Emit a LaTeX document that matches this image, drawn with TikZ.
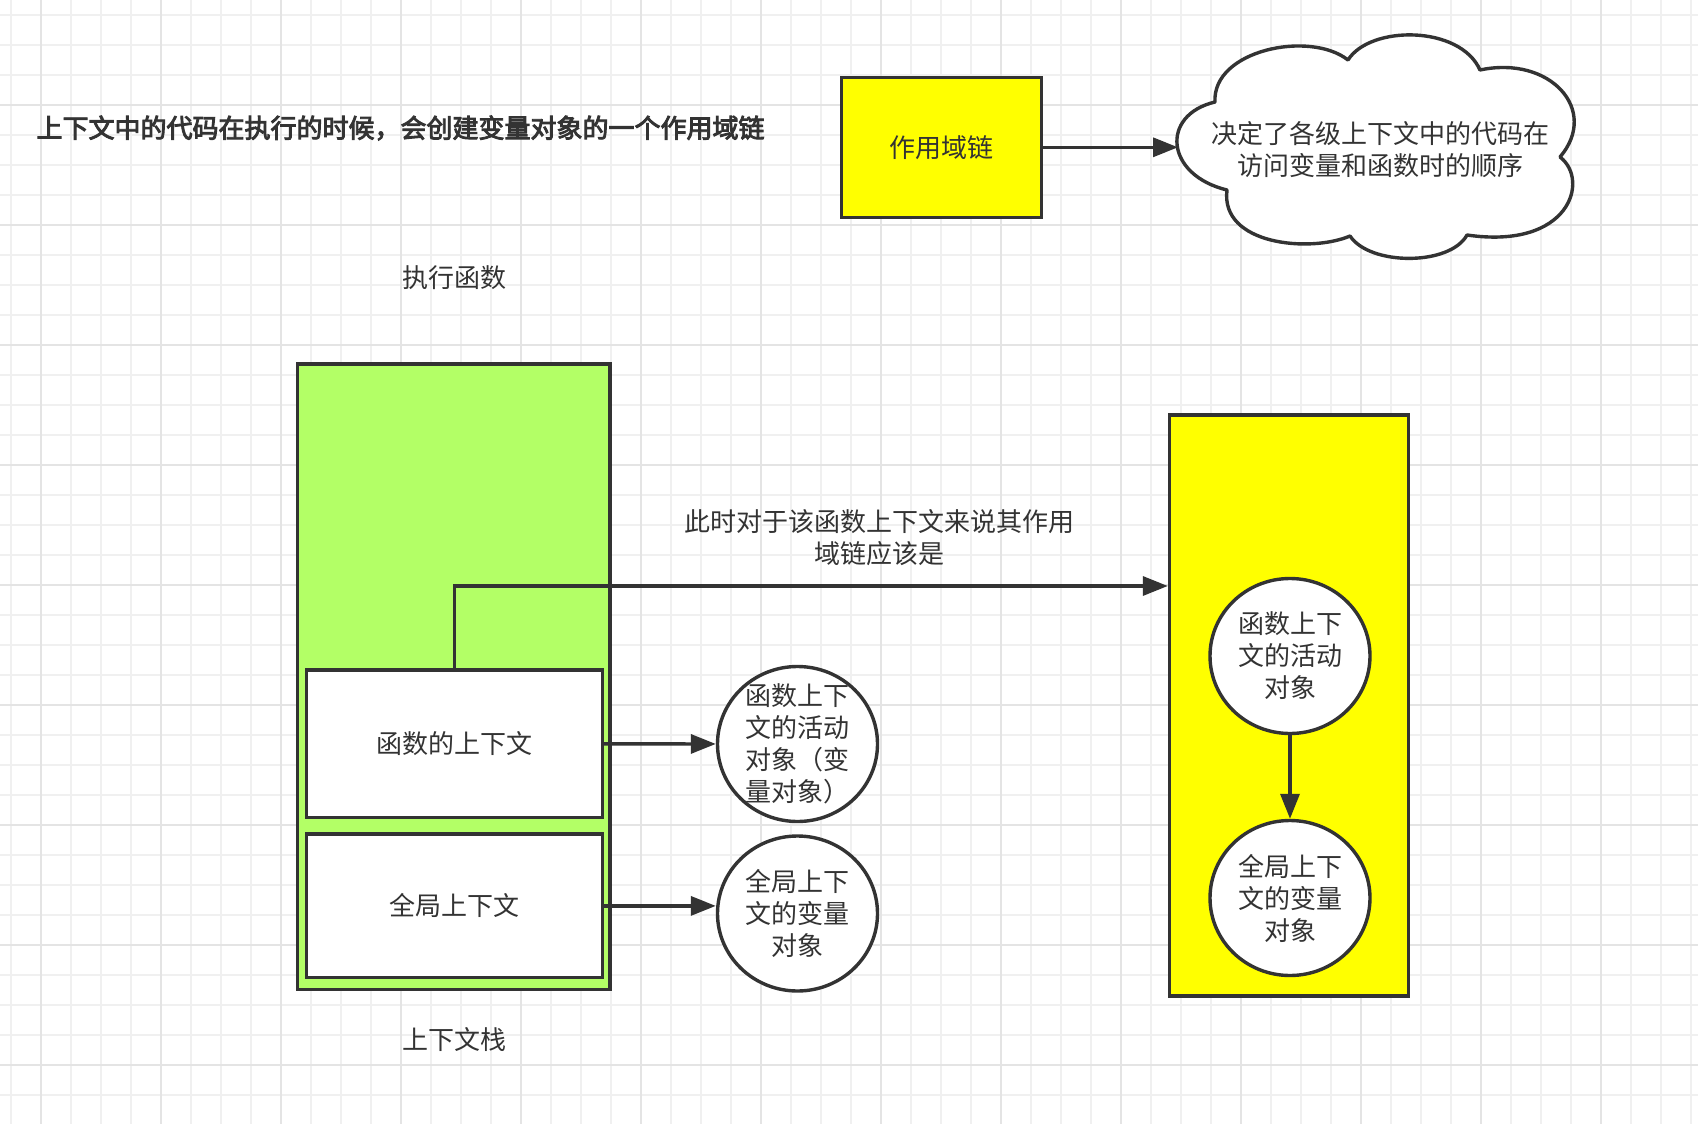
\documentclass[tikz,border=0pt]{standalone}
\usepackage{fontspec}
\setmainfont{Noto Sans CJK SC}
\newfontfamily\titlefont{Noto Sans CJK SC}[FakeBold=3.5]
\usetikzlibrary{arrows.meta,shapes.geometric}
\definecolor{inkgray}{HTML}{333333}
\definecolor{gridminor}{HTML}{F0F0F0}
\definecolor{gridmajor}{HTML}{E4E4E4}
\definecolor{stackgreen}{HTML}{B3FF66}
\definecolor{chainyellow}{HTML}{FFFF00}

\begin{document}
\begin{tikzpicture}[x=1pt, y=-1pt,
    every node/.style={font=\fontsize{26}{32}\selectfont, text=inkgray},
    minorline/.style={gridminor, line width=1.2pt},
    majorline/.style={gridmajor, line width=2pt},
    boxline/.style={draw=inkgray, line width=3.4pt},
    ctxbox/.style={boxline, fill=white, minimum width=296pt},
    objnode/.style={boxline, fill=white, ellipse, minimum width=160pt, minimum height=155pt,
      inner xsep=0pt, inner ysep=-10pt, align=center},
    conn/.style={inkgray, line width=3.4pt, -{Triangle[length=25pt, width=19pt]}}
  ]
  % Raster
  \useasboundingbox (0,0) rectangle (1698,1124);
  \fill[white] (0,0) rectangle (1698,1124);
  \foreach \gx in {11,41,...,1698} \draw[minorline] (\gx,0) -- (\gx,1124);
  \foreach \gy in {15,45,...,1124} \draw[minorline] (0,\gy) -- (1698,\gy);
  \foreach \gx in {41,161,...,1698} \draw[majorline] (\gx,0) -- (\gx,1124);
  \foreach \gy in {105,225,...,1124} \draw[majorline] (0,\gy) -- (1698,\gy);

  % Kopfzeile
  \node[anchor=west, font=\fontsize{26}{32}\titlefont] (title) at (33,128)
    {上下文中的代码在执行的时候，会创建变量对象的一个作用域链};
  \node[boxline, fill=chainyellow, minimum width=200pt, minimum height=140pt] (scopechain)
    at (941.7,147.3) {作用域链};

  % Wolke
  \draw[inkgray, line width=3.4pt, fill=white, line join=round]
    (1215,102) .. controls (1212,50) and (1310,30) .. (1348,60)
    .. controls (1370,25) and (1460,25) .. (1480,70)
    .. controls (1550,55) and (1600,110) .. (1560,157)
    .. controls (1590,180) and (1570,250) .. (1467,235)
    .. controls (1450,266) and (1370,266) .. (1350,236)
    .. controls (1310,253) and (1220,245) .. (1227,190)
    .. controls (1165,175) and (1160,115) .. (1215,102) -- cycle;
  \node[align=center] (cloudtext) at (1380,150) {决定了各级上下文中的代码在\\访问变量和函数时的顺序};
  \coordinate (cloudtip) at (1178,147);
  \draw[conn] (scopechain.east) -- (scopechain.east -| cloudtip);

  % Kontextstapel
  \node (stacktop) at (454,278) {执行函数};
  \node (stackbot) at (454,1040) {上下文栈};
  \node[boxline, fill=stackgreen, minimum width=312.7pt, minimum height=625.3pt] (stack)
    at (453.7,676.7) {};
  \node[ctxbox, minimum height=147.7pt] (ctxfunc) at (454.2,743.9) {函数的上下文};
  \node[ctxbox, minimum height=143.7pt] (ctxglobal) at (454.2,905.9) {全局上下文};

  % Variablenobjekte
  \node[objnode] (funcobj) at (797.5,744) {函数上下\\文的活动\\对象（变\\量对象）};
  \node[objnode] (globobj) at (797.5,913.5) {全局上下\\文的变量\\对象};
  \draw[conn] (ctxfunc.east) -- (funcobj);
  \draw[conn] (ctxglobal.east) -- (ctxglobal.east -| globobj.west);

  % Gueltigkeitskette
  \node[boxline, fill=chainyellow, minimum width=239pt, minimum height=581pt] (chainstack)
    at (1289,705.5) {};
  \node[objnode] (chainfunc) at (1290,656) {函数上下\\文的活动\\对象};
  \node[objnode] (chainglob) at (1290,898) {全局上下\\文的变量\\对象};
  \draw[conn] (chainfunc) -- (chainglob);
  \node[align=center] (chainnote) at (879,538) {此时对于该函数上下文来说其作用\\域链应该是};
  \draw[conn] (ctxfunc.north) |- ([yshift=119.5pt]chainstack.west);
\end{tikzpicture}
\end{document}
